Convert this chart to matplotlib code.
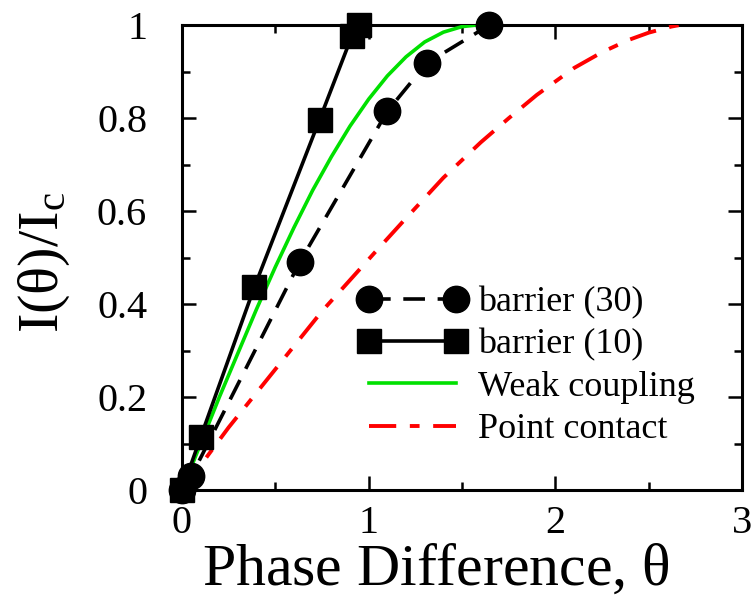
import numpy as np
import matplotlib
matplotlib.use('Agg')
import matplotlib.pyplot as plt
from matplotlib.ticker import MultipleLocator

plt.rcParams['font.family'] = ['Liberation Serif', 'DejaVu Serif']
plt.rcParams['mathtext.fontset'] = 'custom'
plt.rcParams['mathtext.rm'] = 'Liberation Serif'
plt.rcParams['mathtext.it'] = 'Liberation Serif'

## data
b30_x = [0.0, 0.05, 0.63, 1.10, 1.31, 1.645]
b30_y = [0.0, 0.03, 0.49, 0.815, 0.918, 1.0]

b10_x = [0.0, 0.10, 0.387, 0.737, 0.91, 0.95]
b10_y = [0.0, 0.114, 0.436, 0.797, 0.977, 1.0]

weak_x = [0.0, 0.1, 0.2, 0.3, 0.4, 0.5, 0.6, 0.7, 0.8, 0.9, 1.0, 1.1, 1.2, 1.3, 1.4, 1.5, 1.57]
weak_y = [0.0, 0.10, 0.20, 0.295, 0.39, 0.48, 0.565, 0.645, 0.717, 0.783, 0.841, 0.891, 0.932, 0.964, 0.985, 0.997, 1.0]

point_x = [0.0, 0.13, 0.25, 0.52, 0.75, 1.03, 1.2, 1.40, 1.6, 1.75, 1.9, 2.10, 2.25, 2.39, 2.5, 2.62, 2.66]
point_y = [0.0, 0.07, 0.135, 0.27, 0.385, 0.51, 0.585, 0.672, 0.748, 0.80, 0.85, 0.908, 0.942, 0.968, 0.984, 0.997, 1.0]

fig = plt.figure(figsize=(7.55, 6.0), dpi=100)
ax = fig.add_axes([0.241, 0.183, 0.742, 0.775])

ax.plot(b30_x, b30_y, color='black', lw=2.6, ls=(0, (6, 3.5)), marker='o', ms=19,
        label='barrier (30)', zorder=4, clip_on=False)
ax.plot(b10_x, b10_y, color='black', lw=2.6, ls='-', marker='s', ms=17,
        label='barrier (10)', zorder=4, clip_on=False)
ax.plot(weak_x, weak_y, color='#00e000', lw=2.6, label='Weak coupling', zorder=3)
ax.plot(point_x, point_y, color='red', lw=2.8, ls=(0, (7, 3.5, 2.5, 3.5)),
        label='Point contact', zorder=3)

ax.set_xlim(0, 3)
ax.set_ylim(0, 1)
ax.xaxis.set_major_locator(MultipleLocator(1))
ax.xaxis.set_minor_locator(MultipleLocator(0.5))
ax.yaxis.set_minor_locator(MultipleLocator(0.1))
ax.set_yticks([0, 0.2, 0.4, 0.6, 0.8, 1.0])
ax.set_yticklabels(['0', '0.2', '0.4', '0.6', '0.8', '1'])
ax.tick_params(which='both', direction='in', top=True, right=True, width=1.8,
               labelsize=29)
ax.tick_params(axis='y', pad=25)
ax.tick_params(axis='x', pad=11)
ax.tick_params(which='major', length=10)
ax.tick_params(which='minor', length=6)
for sp in ax.spines.values():
    sp.set_linewidth(2.2)

ax.set_xlabel(r'Phase Difference, $\theta$', fontsize=43)
ax.xaxis.set_label_coords(0.454, -0.203, transform=ax.transAxes)
ax.xaxis.label.set_va('baseline')
ax.set_ylabel(r'I($\theta$)/I$_\mathrm{c}$', fontsize=42)
ax.yaxis.set_label_coords(-0.196, 0.49, transform=ax.transAxes)

leg = ax.legend(loc='lower right', bbox_to_anchor=(0.96, 0.04), frameon=False,
                fontsize=26, numpoints=2, handlelength=3.0, handletextpad=0.3,
                labelspacing=0.25, borderpad=0.2)

plt.savefig('out.png', dpi=100)
